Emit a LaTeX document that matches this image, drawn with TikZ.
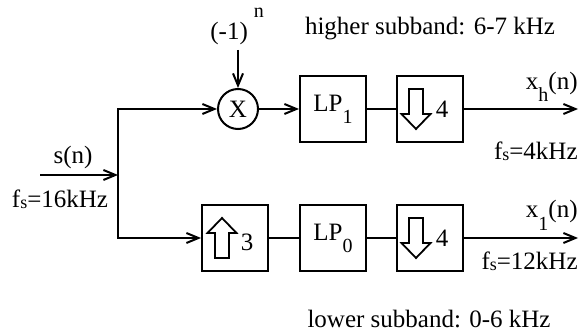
\documentclass[tikz,border=0pt]{standalone}
\usepackage{fontspec}
\setmainfont{Liberation Serif}
\usetikzlibrary{arrows.meta, positioning, calc}
\newcommand{\lowsub}[1]{\raisebox{-6pt}{\fontsize{10}{12}\selectfont #1}}
\newcommand{\fsub}{f\raisebox{-0.5pt}{\fontsize{9}{10}\selectfont s}}
\tikzset{
  block/.style={rectangle, draw, minimum size=33pt, inner sep=0pt, line width=1pt},
  mixer/.style={circle, draw, minimum size=20pt, inner sep=0pt, line width=1pt},
  lbl/.style={inner sep=0pt},
  sig/.style={-{Straight Barb[length=6pt,width=5pt]}, line width=1pt},
  line/.style={line width=1pt},
  hollowarrow/.pic={
    \draw[line width=0.9pt] (-7,20) -- (-7,-5) -- (-14.5,-5) -- (0,-20)
      -- (14.5,-5) -- (7,-5) -- (7,20) -- cycle;}
}

\begin{document}
\begin{tikzpicture}[x=0.5pt, y=-0.5pt, font=\fontsize{12.5}{15}\selectfont]
  \useasboundingbox (0,0) rectangle (583,336);

  % Upper branch blocks
  \node[mixer] (mix) at (238,109) {X};
  \node[block] (lp1) at (333,109) {LP\lowsub{1}};
  \node[block] (dn1) at (430,109) {};
  % Lower branch blocks
  \node[block] (up0) at (235,238) {};
  \node[block] (lp0) at (333,238) {LP\lowsub{0}};
  \node[block] (dn0) at (430,238) {};

  % Rate change symbols
  \pic at ($(up0)+(-13,0)$) {hollowarrow};
  \node[lbl] (up0n) at ($(up0)+(12,4)$) {3};
  \pic[yscale=-1] at ($(dn1)+(-14,0)$) {hollowarrow};
  \node[lbl] (dn1n) at ($(dn1)+(12,0)$) {4};
  \pic[yscale=-1] at ($(dn0)+(-14,0)$) {hollowarrow};
  \node[lbl] (dn0n) at ($(dn0)+(12,0)$) {4};

  % Coordinates
  \coordinate (src) at (40,175);
  \coordinate (junc) at (118,175);
  \coordinate (mixin) at (238,50);
  \coordinate (outh) at (578,109);
  \coordinate (outl) at (578,238);

  % Input and split
  \draw[sig] (src) -- (junc);
  \draw[sig] (junc) |- (mix);
  \draw[sig] (junc) |- (up0);
  \draw[sig] (mixin) -- (mix.north);

  % Forward paths
  \draw[sig] (mix) -- (lp1);
  \draw[line] (lp1) -- (dn1);
  \draw[sig] (dn1) -- (outh);
  \draw[line] (up0) -- (lp0);
  \draw[line] (lp0) -- (dn0);
  \draw[sig] (dn0) -- (outl);

  % Labels
  \node[lbl, anchor=base west] (mod) at (210,40)
    {(-1)\hspace{3pt}\raisebox{11pt}{\fontsize{10}{12}\selectfont n}};
  \node[lbl] (sn) at (73,157) {s(n)};
  \node[lbl, anchor=base] (fsin) at (60,208) {\fsub=16kHz};
  \node[lbl, anchor=base east] (xh) at (578,90) {x\lowsub{h}(n)};
  \node[lbl, anchor=base east] (fsh) at (578,160) {\fsub=4kHz};
  \node[lbl, anchor=base east] (xl) at (578,218) {x\lowsub{1}(n)};
  \node[lbl, anchor=base east] (fsl) at (578,270) {\fsub=12kHz};
  \node[lbl, anchor=base] (hsub) at (430,35) {higher subband: 6-7 kHz};
  \node[lbl, anchor=base] (lsub) at (429,327) {lower subband: 0-6 kHz};
\end{tikzpicture}
\end{document}
